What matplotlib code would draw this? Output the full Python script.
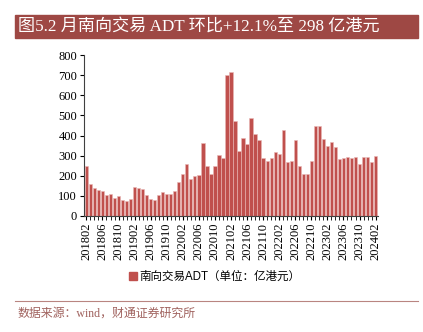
import matplotlib

matplotlib.use("Agg")
import matplotlib.pyplot as plt
from matplotlib.patches import Rectangle, Patch

plt.rcParams["font.family"] = ["Liberation Serif", "Noto Sans CJK SC"]

months = [f"{y}{m:02d}" for y in range(2018, 2025) for m in range(1, 13)]
months = months[months.index("201802"):months.index("202402") + 1]

adt = [
    247, 161, 141, 128, 126, 103, 111, 90, 100, 80, 73, 85,
    145, 141, 135, 106, 85, 78, 103, 121, 111, 108, 124, 168,
    209, 260, 184, 200, 206, 365, 249, 207, 249, 304, 289, 703,
    715, 473, 323, 387, 357, 486, 408, 380, 289, 271, 290, 320,
    307, 427, 269, 271, 377, 247, 209, 209, 272, 447, 447, 385,
    347, 367, 345, 282, 289, 292, 290, 294, 256, 295, 292, 269,
    298,
]

title = "图5.2 月南向交易 ADT 环比+12.1%至 298 亿港元"
legend_label = "南向交易ADT（单位：亿港元）"
source = "数据来源：wind，财通证券研究所"

W, H = 423, 332
fig = plt.figure(figsize=(W / 100, H / 100), dpi=100)

# title banner
fig.patches.append(Rectangle((15 / W, 1 - 38 / H), 403 / W, 23 / H,
                             transform=fig.transFigure, color="#9E4844", zorder=0))
fig.text(18 / W, 1 - 26.5 / H, title, color="white", fontsize=12.3, va="center", ha="left")

ax = fig.add_axes([84 / W, 1 - 216 / H, 294 / W, 161 / H])
x = list(range(len(adt)))
ax.bar(x, adt, width=0.82, color="#C0504D", edgecolor="#E9B8B6", linewidth=0.4)
ax.set_xlim(-0.6, len(adt) - 0.4)
ax.set_ylim(0, 800)
ax.set_yticks(range(0, 801, 100))
ax.set_xticks(x, minor=True)
ax.set_xticks(x[::4])
ax.set_xticklabels(months[::4], rotation=90, fontsize=9)
ax.tick_params(axis="y", labelsize=9, length=3, pad=2)
ax.tick_params(axis="x", which="both", length=3, pad=2)
for s in ("top", "right"):
    ax.spines[s].set_visible(False)
for s in ("left", "bottom"):
    ax.spines[s].set_color("#404040")
    ax.spines[s].set_linewidth(0.8)

fig.legend(handles=[Patch(color="#C0504D", label=legend_label)],
           loc="center", bbox_to_anchor=(215 / W, 1 - 277 / H), frameon=False,
           handlelength=0.7, handleheight=0.7, handletextpad=0.2,
           prop={"family": ["Liberation Sans", "Noto Sans CJK SC"], "size": 8.3})

fig.add_artist(plt.Line2D([15 / W, 418 / W], [1 - 301 / H, 1 - 301 / H],
                          transform=fig.transFigure, color="#B98581", linewidth=0.8))
fig.text(17 / W, 1 - 314 / H, source, color="#A0625E", fontsize=8.6, va="center", ha="left")

fig.savefig("out.png", dpi=100)
